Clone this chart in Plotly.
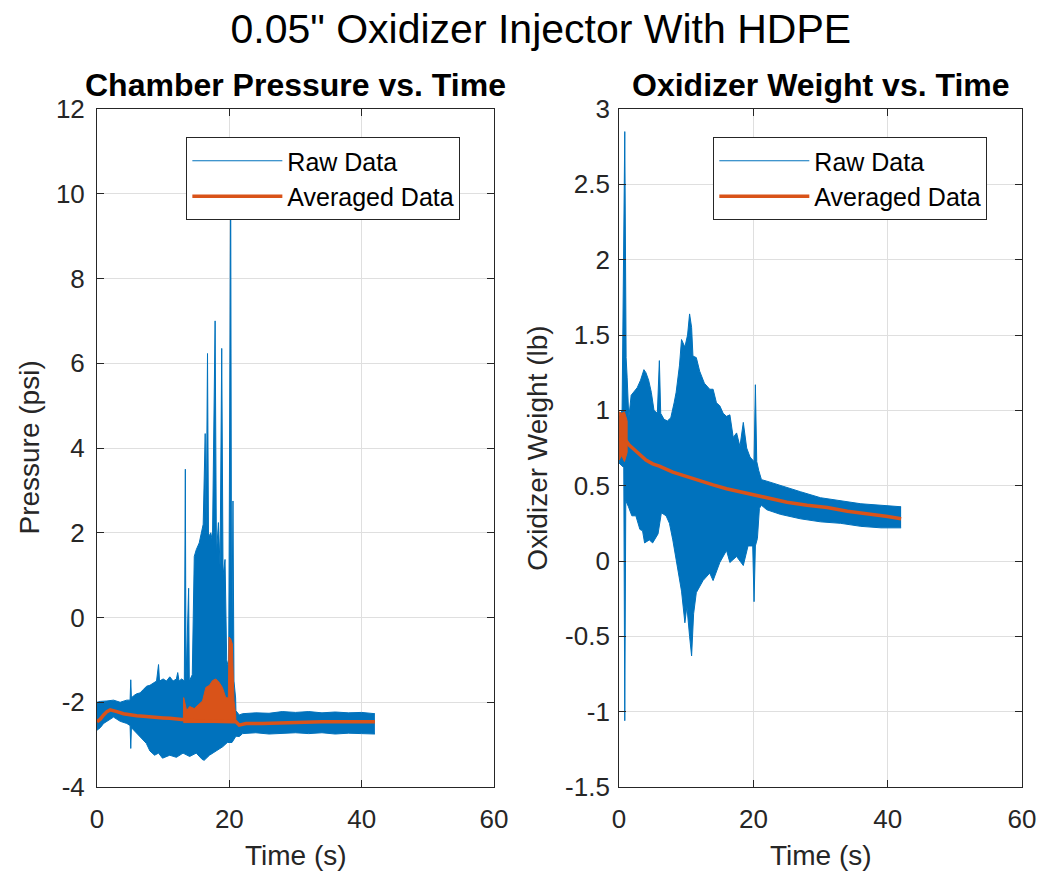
import plotly.graph_objects as go

# ---------------- data ----------------
# Left panel: chamber pressure (psi) vs time (s)
p_t_hi = [0, 0.5, 1.5, 2.5, 3.5, 4.5, 5.0, 5.1, 5.2, 5.5, 6.0, 6.5, 7.0, 7.5, 8.0, 8.5,
          9.0, 9.3, 9.45, 10.0, 10.5, 11.0, 11.5, 12.0, 12.2, 12.4, 12.8, 13.2, 13.35,
          13.45, 13.85, 13.95, 14.4, 14.7, 15.0, 15.45, 15.8, 16.05, 16.35, 16.5, 16.7,
          16.85, 17.2, 17.45, 17.85, 18.05, 18.35, 18.6, 18.85, 19.05, 19.35, 19.6, 19.9,
          20.2, 20.35, 20.55, 20.7, 20.95, 21.0, 21.5, 22, 24, 26, 28, 30, 32, 34, 36, 38,
          40, 42]
p_hi = [-2.0, -1.98, -1.97, -1.95, -2.0, -1.95, -1.95, -1.47, -1.9, -1.85, -1.8, -1.78,
        -1.7, -1.62, -1.6, -1.55, -1.5, -1.11, -1.5, -1.45, -1.5, -1.4, -1.5, -1.45, -1.3,
        -1.5, -1.45, -1.5, 3.5, -1.5, 0.69, -1.5, -1.35, 1.44, 1.6, 1.76, 2.0, 2.2, 4.34,
        2.0, 6.23, 1.9, 2.0, 1.8, 7.0, 1.5, 2.24, 1.2, 6.35, 1.0, 1.37, -1.0, -1.2, 10.5,
        -1.0, 2.75, -1.5, -1.9, -2.2, -2.3, -2.27, -2.25, -2.26, -2.22, -2.24, -2.22,
        -2.25, -2.23, -2.25, -2.24, -2.27]
p_t_lo = [0, 0.5, 1.0, 1.5, 2.5, 3.5, 4.5, 5.0, 5.1, 5.2, 6.0, 7.0, 7.45, 8.0, 8.7, 9.3,
          9.9, 11.0, 12.0, 13.0, 14.0, 15.0, 15.9, 16.2, 17.0, 18.0, 19.0, 19.7, 20.4,
          21.0, 21.5, 22, 24, 26, 28, 30, 32, 34, 36, 38, 40, 42]
p_lo = [-2.66, -2.6, -2.5, -2.45, -2.35, -2.45, -2.5, -2.55, -3.09, -2.6, -2.73, -2.9,
        -2.97, -3.15, -3.25, -3.2, -3.32, -3.25, -3.3, -3.2, -3.28, -3.2, -3.35, -3.37,
        -3.25, -3.15, -3.05, -2.95, -2.95, -2.8, -2.81, -2.74, -2.72, -2.75, -2.73, -2.72,
        -2.74, -2.72, -2.75, -2.73, -2.74, -2.75]
p_t_avg = [0, 0.5, 1.0, 1.5, 2.0, 2.5, 3, 4, 5, 6, 7, 8, 9, 10, 11, 12, 13, 14, 15, 16,
           17, 18, 19, 20, 21, 21.5, 22.5, 25, 28, 31, 34, 37, 40, 42]
p_avg = [-2.46, -2.4, -2.3, -2.22, -2.18, -2.19, -2.22, -2.27, -2.3, -2.32, -2.33, -2.35,
         -2.36, -2.37, -2.38, -2.4, -2.4, -2.44, -2.44, -2.44, -2.44, -2.44, -2.44, -2.44,
         -2.46, -2.54, -2.5, -2.5, -2.48, -2.47, -2.46, -2.46, -2.46, -2.46]
p_t_ohi = [13.05, 13.1, 13.55, 14.0, 14.7, 15.45, 15.95, 16.45, 17.0, 17.45, 17.95, 18.45,
           18.95, 19.45, 19.85, 19.95, 20.2, 20.45, 20.7, 20.95, 21.0]
p_ohi = [-2.42, -1.89, -2.2, -2.1, -2.15, -2.05, -1.97, -1.65, -1.6, -1.49, -1.45, -1.53,
         -1.65, -1.89, -1.9, -0.46, -0.5, -0.62, -1.97, -2.29, -2.44]
p_t_olo = [13.05, 21.0]
p_olo = [-2.48, -2.48]

# Right panel: oxidizer weight (lb) vs time (s)
w_t_hi = [0, 0.45, 0.85, 0.95, 1.05, 1.2, 1.45, 1.8, 2.2, 2.7, 3.2, 3.7, 4.0, 4.4, 4.8,
          5.2, 5.7, 6.0, 6.2, 6.7, 7.2, 7.7, 8.2, 8.5, 9.0, 9.3, 9.8, 10.2, 10.5, 10.8,
          11.0, 11.5, 12.0, 12.7, 13.5, 14.0, 14.5, 15.0, 15.5, 16.0, 16.5, 17.0, 17.5,
          18.0, 18.5, 19.0, 19.5, 20.1, 20.3, 20.5, 20.8, 21.0, 21.2, 22, 24, 27, 30, 33,
          36, 39, 42]
w_hi = [0.95, 1.0, 2.85, 1.4, 1.35, 1.22, 0.95, 1.1, 1.12, 1.15, 1.2, 1.27, 1.25, 1.2,
        1.12, 1.0, 0.98, 1.33, 0.98, 0.94, 0.93, 0.95, 1.05, 1.12, 1.3, 1.47, 1.42, 1.5,
        1.64, 1.55, 1.36, 1.35, 1.26, 1.18, 1.14, 1.14, 1.05, 1.03, 0.98, 0.96, 0.97,
        0.82, 0.85, 0.76, 0.92, 0.75, 0.69, 0.66, 1.17, 0.66, 0.6, 0.57, 0.54, 0.53, 0.50,
        0.46, 0.42, 0.40, 0.38, 0.37, 0.36]
w_t_lo = [0, 0.7, 0.85, 1.0, 1.4, 1.9, 2.5, 3.1, 3.5, 3.8, 4.5, 5.0, 5.8, 6.3, 7.0, 7.5,
          8.0, 8.7, 9.3, 9.8, 10.1, 10.5, 10.8, 11.1, 11.5, 12.5, 13.5, 14.0, 15.0, 16.0,
          16.5, 17.5, 18.5, 19.2, 19.9, 20.1, 20.3, 20.6, 20.9, 21.2, 22, 24, 27, 30, 33,
          36, 39, 42]
w_lo = [0.65, 0.62, -1.06, 0.4, 0.36, 0.3, 0.3, 0.21, 0.2, 0.12, 0.14, 0.12, 0.18, 0.32,
        0.3, 0.25, 0.14, -0.04, -0.2, -0.41, -0.3, -0.5, -0.63, -0.35, -0.21, -0.13,
        -0.08, -0.13, -0.01, 0.07, -0.01, 0.03, -0.03, 0.10, 0.1, -0.27, 0.1, 0.15, 0.35,
        0.37, 0.34, 0.31, 0.28, 0.26, 0.25, 0.23, 0.22, 0.22]
w_t_avg = [0, 0.5, 1.0, 1.5, 2, 3, 4, 5, 6, 8, 10, 12, 14, 16, 18, 20, 22, 25, 28, 31, 34,
           37, 40, 42]
w_avg = [0.8, 0.82, 0.8, 0.77, 0.75, 0.71, 0.67, 0.645, 0.63, 0.59, 0.56, 0.53, 0.505,
         0.48, 0.46, 0.445, 0.425, 0.39, 0.37, 0.355, 0.33, 0.315, 0.295, 0.28]
w_t_ohi = [0, 0.4, 0.8, 1.2]
w_ohi = [0.99, 0.98, 0.99, 0.93]
w_t_olo = [0, 0.4, 0.8, 1.2]
w_olo = [0.67, 0.7, 0.66, 0.72]

# axis ticks
x_ticks = [0, 20, 40, 60]
p_ticks = [-4, -2, 0, 2, 4, 6, 8, 10, 12]
p_ticktext = ["-4", "-2", "0", "2", "4", "6", "8", "10", "12"]
w_ticks = [-1.5, -1, -0.5, 0, 0.5, 1, 1.5, 2, 2.5, 3]
w_ticktext = ["-1.5", "-1", "-0.5", "0", "0.5", "1", "1.5", "2", "2.5", "3"]

# ---------------- figure ----------------
BLUE = "#0072BD"
ORANGE = "#D95319"
AX = "#262626"
GRID = "#dfdfdf"
FONT = "Liberation Sans, Arial, sans-serif"

fig = go.Figure()


def add_panel(xa, ya, leg, t_hi, hi, t_lo, lo, t_ohi, ohi, t_olo, olo, t_avg, avg):
    fig.add_trace(go.Scatter(x=t_hi, y=hi, mode="lines", name="Raw Data",
                             line=dict(color=BLUE, width=1), xaxis=xa, yaxis=ya,
                             legend=leg, hoverinfo="skip"))
    fig.add_trace(go.Scatter(x=t_lo, y=lo, mode="lines", fill="tonexty", fillcolor=BLUE,
                             line=dict(color=BLUE, width=1), xaxis=xa, yaxis=ya,
                             showlegend=False, hoverinfo="skip"))
    fig.add_trace(go.Scatter(x=list(t_ohi) + list(t_olo)[::-1],
                             y=list(ohi) + list(olo)[::-1], mode="lines", fill="toself",
                             fillcolor=ORANGE, line=dict(color=ORANGE, width=1),
                             xaxis=xa, yaxis=ya, showlegend=False, hoverinfo="skip"))
    fig.add_trace(go.Scatter(x=t_avg, y=avg, mode="lines", name="Averaged Data",
                             line=dict(color=ORANGE, width=3.5), xaxis=xa, yaxis=ya,
                             legend=leg))


add_panel("x", "y", "legend", p_t_hi, p_hi, p_t_lo, p_lo, p_t_ohi, p_ohi, p_t_olo, p_olo,
          p_t_avg, p_avg)
add_panel("x2", "y2", "legend2", w_t_hi, w_hi, w_t_lo, w_lo, w_t_ohi, w_ohi, w_t_olo,
          w_olo, w_t_avg, w_avg)

axis_common = dict(showline=True, linecolor=AX, linewidth=1, mirror="ticks",
                   ticks="inside", ticklen=7, tickcolor=AX, showgrid=True,
                   gridcolor=GRID, gridwidth=1, zeroline=False,
                   tickfont=dict(family=FONT, size=26, color=AX))

L_DOM = [0, 0.4292]
R_DOM = [0.5644, 1]

legend_common = dict(xanchor="left", yanchor="top", bgcolor="white", bordercolor=AX,
                     borderwidth=1, itemwidth=90, traceorder="normal",
                     font=dict(family=FONT, size=25, color="#000000"))

fig.update_layout(
    width=1048, height=882,
    margin=dict(l=97, r=19, t=109, b=95),
    paper_bgcolor="white", plot_bgcolor="white",
    font=dict(family=FONT, color=AX),
    xaxis=dict(domain=L_DOM, range=[0, 60], tickvals=x_ticks, anchor="y",
               ticklabelstandoff=9, **axis_common),
    yaxis=dict(domain=[0, 1], range=[-4, 12], tickvals=p_ticks, ticktext=p_ticktext,
               anchor="x", ticklabelstandoff=6, **axis_common),
    xaxis2=dict(domain=R_DOM, range=[0, 60], tickvals=x_ticks, anchor="y2",
                ticklabelstandoff=9, **axis_common),
    yaxis2=dict(domain=[0, 1], range=[-1.5, 3], tickvals=w_ticks, ticktext=w_ticktext,
                anchor="x2", ticklabelstandoff=3, **axis_common),
    title=dict(text='0.05" Oxidizer Injector With HDPE', x=0.516, y=0.967,
               xanchor="center", yanchor="middle",
               font=dict(family=FONT, size=41, color="#000000")),
    legend=dict(x=0.0966, y=0.9587, **legend_common),
    legend2=dict(x=0.6663, y=0.9587, **legend_common),
    showlegend=True,
)

ann = []
# subplot titles
ann.append(dict(text="<b>Chamber Pressure vs. Time</b>", x=sum(L_DOM) / 2, y=1.0354,
                xref="paper", yref="paper", showarrow=False, xanchor="center",
                yanchor="middle", font=dict(family=FONT, size=32, color="#000000")))
ann.append(dict(text="<b>Oxidizer Weight vs. Time</b>", x=sum(R_DOM) / 2, y=1.0354,
                xref="paper", yref="paper", showarrow=False, xanchor="center",
                yanchor="middle", font=dict(family=FONT, size=32, color="#000000")))
# axis labels
for xc in (sum(L_DOM) / 2, sum(R_DOM) / 2):
    ann.append(dict(text="Time (s)", x=xc, y=-0.1003, xref="paper", yref="paper",
                    showarrow=False, xanchor="center", yanchor="middle",
                    font=dict(family=FONT, size=28, color=AX)))
ann.append(dict(text="Pressure (psi)", x=-0.074, y=0.5, xref="paper", yref="paper",
                showarrow=False, xanchor="center", yanchor="middle", textangle=-90,
                font=dict(family=FONT, size=28, color=AX)))
ann.append(dict(text="Oxidizer Weight (lb)", x=0.4753, y=0.5, xref="paper", yref="paper",
                showarrow=False, xanchor="center", yanchor="middle", textangle=-90,
                font=dict(family=FONT, size=28, color=AX)))
fig.update_layout(annotations=ann)

fig.write_html("out.html")
